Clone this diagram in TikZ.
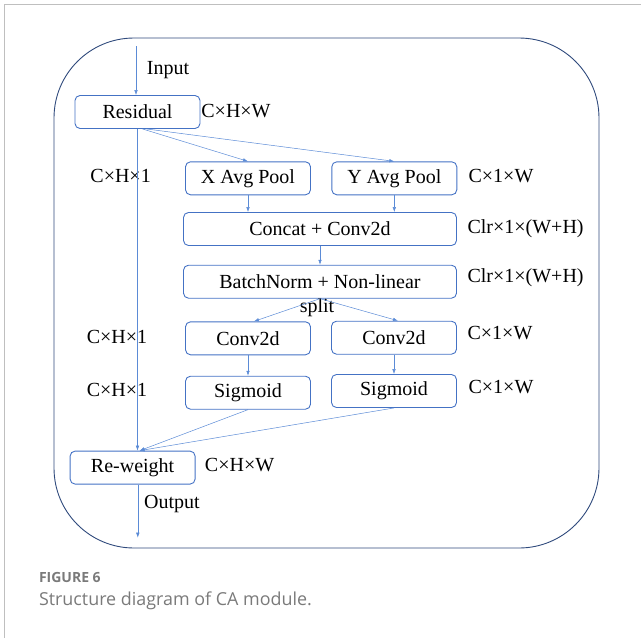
\documentclass[tikz,border=0pt]{standalone}
\usepackage{fontspec}
\setmainfont{Liberation Serif}
\newfontfamily\capfont{Open Sans}
\usetikzlibrary{arrows.meta}
\definecolor{boxblue}{HTML}{4472C4}
\definecolor{lineblue}{HTML}{5B8BD6}
\definecolor{frameblue}{HTML}{2F4A7C}
\definecolor{capgray}{HTML}{7A7A7A}

\begin{document}
\begin{tikzpicture}[x=1pt,y=-1pt,
  blk/.style={draw=boxblue, line width=0.9pt, rounded corners=5pt, minimum width=125pt, minimum height=33pt, inner sep=0pt, font=\fontsize{20}{22}\selectfont},
  wide/.style={blk, minimum width=273pt},
  dim/.style={inner sep=0pt, font=\fontsize{20}{22}\selectfont},
  arr/.style={draw=lineblue, line width=0.5pt, -{Latex[length=5pt,width=3.5pt]}}]
\useasboundingbox (0,0) rectangle (641,638);
\draw [gray!50, line width=1pt] (641,4) -- (4,4) -- (4,638);
\draw [frameblue, line width=0.9pt, rounded corners=80pt] (54,38) rectangle (599,548);

\node [blk] (res) at (137.5,112) {Residual};
\node [blk] (xpool) at (248,178.3) {X Avg Pool};
\node [blk] (ypool) at (394.3,178.3) {Y Avg Pool};
\node [wide] (cat) at (320,229) {Concat + Conv2d};
\node [wide] (bn) at (320,281.7) {BatchNorm + Non-linear};
\node [blk] (convx) at (248,338.3) {Conv2d};
\node [blk] (convy) at (394,337.7) {Conv2d};
\node [blk] (sigx) at (248,392.7) {Sigmoid};
\node [blk] (sigy) at (394,391) {Sigmoid};
\node [blk] (rew) at (132.6,467.6) {Re-weight};

\node [dim] (lin) at (168,70) {Input};
\node [dim] (lres) at (236,111) {C×H×W};
\node [dim] (lxp) at (120.6,176) {C×H×1};
\node [dim] (lyp) at (501,176) {C×1×W};
\node [dim] (lcat) at (525.6,229) {Clr×1×(W+H)};
\node [dim] (lbn) at (525.6,278) {Clr×1×(W+H)};
\node [dim] (lsplit) at (317,308) {split};
\node [dim] (lcx) at (117,336.7) {C×H×1};
\node [dim] (lcy) at (500,333.3) {C×1×W};
\node [dim] (lsx) at (117,390) {C×H×1};
\node [dim] (lsy) at (501,387.3) {C×1×W};
\node [dim] (lrew) at (239.6,465) {C×H×W};
\node [dim] (lout) at (172,504) {Output};

\coordinate (in) at (136,46);
\coordinate (out) at (137.8,537.7);
\draw [arr] (in) -- (in |- res.north);
\draw [arr] (res.south) -- (res.south |- rew.north);
\draw [arr] ([xshift=5pt]res.south) -- (xpool.north);
\draw [arr] ([xshift=9pt]res.south) -- (ypool.north);
\draw [arr] (xpool.south) -- (xpool.south |- cat.north);
\draw [arr] (ypool.south) -- (ypool.south |- cat.north);
\draw [arr] (cat.south) -- (bn.north);
\draw [arr] (bn.south) -- ([xshift=6pt]convx.north);
\draw [arr] (bn.south) -- ([xshift=4pt]convy.north);
\draw [arr] (convx.south) -- (sigx.north);
\draw [arr] (convy.south) -- (sigy.north);
\draw [arr] (sigx.south) -- ([xshift=7pt]rew.north);
\draw [arr] (sigy.south) -- ([xshift=7pt]rew.north);
\draw [arr] (rew.south -| out) -- (out);

\node [anchor=west, inner sep=0pt, text=capgray, font=\capfont\bfseries\fontsize{14}{16}\selectfont] (fig) at (38.8,577) {FIGURE 6};
\node [anchor=west, inner sep=0pt, text=capgray, font=\capfont\fontsize{17.9}{20}\selectfont] (cap) at (38.8,601) {Structure diagram of CA module.};
\end{tikzpicture}
\end{document}
